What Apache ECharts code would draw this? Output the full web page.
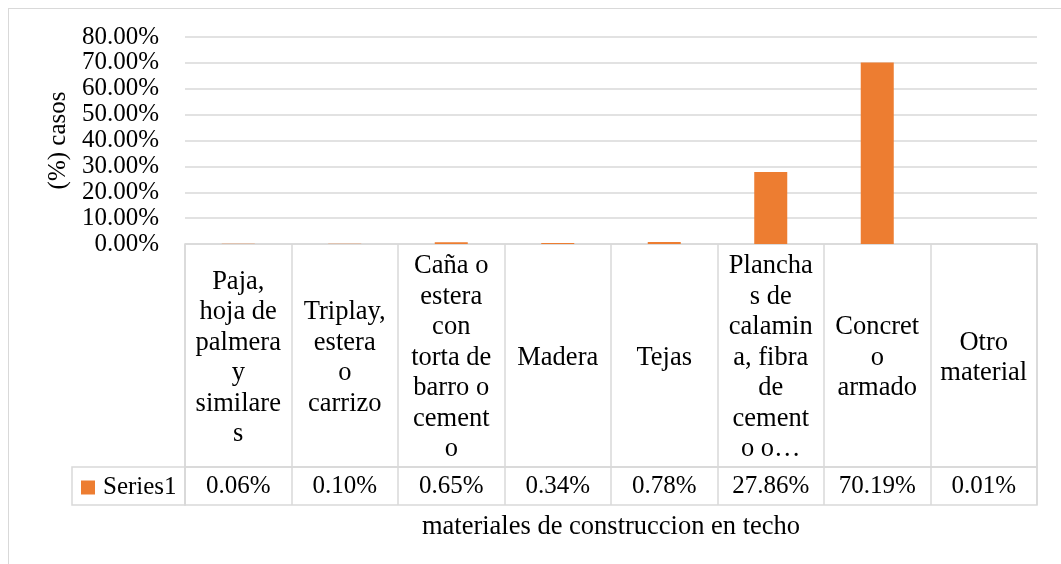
<!DOCTYPE html>
<html>
<head>
<meta charset="utf-8">
<script src="https://cdn.jsdelivr.net/npm/echarts@6/dist/echarts.min.js"></script>
<style>
  body { margin: 0; background: #fff; }
  #frame { position: absolute; left: 8px; top: 8px; width: 1100px; height: 600px; border: 1.5px solid #d9d9d9; }
  #chart { position: absolute; left: 0; top: 0; width: 1061px; height: 564px; }
</style>
</head>
<body>
<div id="frame"></div>
<div id="chart"></div>
<script>
// categorias tal como aparecen cortadas en la tabla
const categories = [
  "Paja,\nhoja de\npalmera\ny\nsimilare\ns",
  "Triplay,\nestera\no\ncarrizo",
  "Caña o\nestera\ncon\ntorta de\nbarro o\ncement\no",
  "Madera",
  "Tejas",
  "Plancha\ns de\ncalamin\na, fibra\nde\ncement\no o…",
  "Concret\no\narmado",
  "Otro\nmaterial"
];
const values = [0.06, 0.10, 0.65, 0.34, 0.78, 27.86, 70.19, 0.01];
const seriesName = "Series1";
const yMax = 80;
const yStep = 10;
const yName = "(%) casos";
const xName = "materiales de construccion en techo";

const font = "'Liberation Serif', 'Times New Roman', serif";
const fontSize = 25;
const bigFont = 26.5;
const lineColor = "#d9d9d9";
const barColor = "#ED7D31";

const chartDom = document.getElementById("chart");
const myChart = echarts.init(chartDom);

const pct = (v) => v.toFixed(2) + "%";

const option = {
  animation: false,
  textStyle: { fontFamily: font },
  legend: {
    data: [seriesName],
    left: 81,
    top: 475,
    padding: 0,
    icon: "rect",
    itemWidth: 14,
    itemHeight: 14,
    textStyle: { fontSize: fontSize, color: "#000", fontFamily: font, padding: [0, 0, 0, 3] }
  },
  grid: [
    // area de barras
    { left: 185, right: 24, top: 37, height: 207 },
    // fila de categorias
    { left: 185, right: 24, top: 244, height: 223, show: true, borderColor: lineColor, borderWidth: 1.5 },
    // fila de valores
    { left: 185, right: 24, top: 467, height: 38, show: true, borderColor: lineColor, borderWidth: 1.5 },
    // celda de leyenda
    { left: 72, width: 113, top: 467, height: 38, show: true, borderColor: lineColor, borderWidth: 1.5 }
  ],
  xAxis: [
    {
      gridIndex: 0,
      type: "category",
      data: categories,
      axisLine: { show: false },
      axisTick: { show: false },
      axisLabel: { show: false },
      name: xName,
      nameLocation: "middle",
      nameGap: 283,
      nameTextStyle: { fontSize: bigFont, color: "#000", fontFamily: font, verticalAlign: "middle" }
    },
    {
      gridIndex: 1,
      type: "category",
      position: "top",
      data: categories,
      axisLine: { show: false },
      axisTick: { show: false, interval: 0 },
      splitLine: { show: true, interval: 0, lineStyle: { color: lineColor, width: 1.5 } },
      axisLabel: {
        inside: true,
        interval: 0,
        margin: 114,
        verticalAlign: "middle",
        lineHeight: 30.5,
        fontSize: bigFont,
        color: "#000",
        fontFamily: font
      }
    },
    {
      gridIndex: 2,
      type: "category",
      position: "top",
      data: categories,
      axisLine: { show: false },
      axisTick: { show: false, interval: 0 },
      splitLine: { show: true, interval: 0, lineStyle: { color: lineColor, width: 1.5 } },
      axisLabel: {
        inside: true,
        interval: 0,
        margin: 19,
        verticalAlign: "middle",
        fontSize: fontSize,
        color: "#000",
        fontFamily: font,
        formatter: (v, i) => pct(values[i])
      }
    },
    { gridIndex: 3, type: "category", data: [seriesName], show: false }
  ],
  yAxis: [
    {
      gridIndex: 0,
      type: "value",
      min: 0,
      max: yMax,
      interval: yStep,
      axisLine: { show: false },
      axisTick: { show: false },
      splitLine: { lineStyle: { color: lineColor, width: 1.5 } },
      axisLabel: { margin: 26, fontSize: fontSize, color: "#000", fontFamily: font, formatter: pct },
      name: yName,
      nameLocation: "middle",
      nameGap: 127,
      nameRotate: 90,
      nameTextStyle: { fontSize: fontSize, color: "#000", fontFamily: font, verticalAlign: "middle" }
    },
    { gridIndex: 1, type: "value", show: false },
    { gridIndex: 2, type: "value", show: false },
    { gridIndex: 3, type: "value", show: false }
  ],
  series: [
    {
      name: seriesName,
      type: "bar",
      xAxisIndex: 0,
      yAxisIndex: 0,
      data: values,
      barWidth: "31%",
      itemStyle: { color: barColor }
    }
  ]
};

myChart.setOption(option);
</script>
</body>
</html>
